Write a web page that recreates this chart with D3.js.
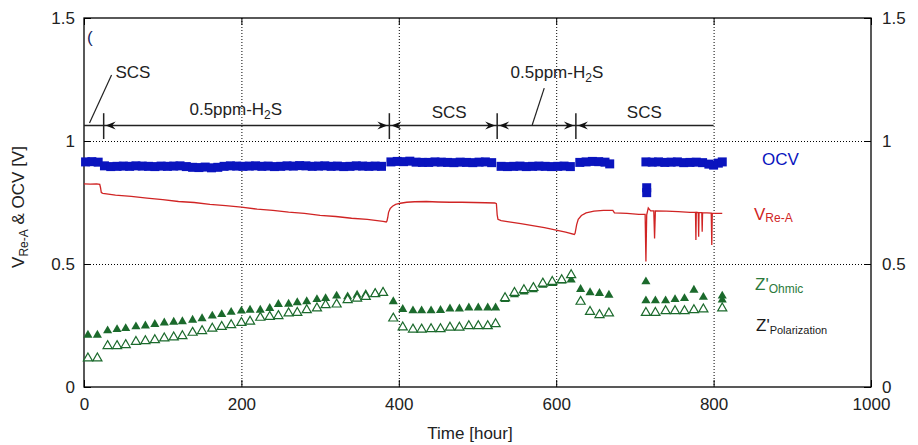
<!DOCTYPE html>
<html><head><meta charset="utf-8">
<script src="https://cdn.jsdelivr.net/npm/d3@7"></script>
<style>
body{margin:0;background:#fff}
svg{display:block}
text{font-family:"Liberation Sans",Arial,sans-serif}
</style>
</head><body>
<svg id="chart" width="918" height="445"></svg>
<script>
// ---------- data ----------
const xTicks = [0, 200, 400, 600, 800, 1000];
const yTicks = [0, 0.5, 1, 1.5];
const yTickLabels = ["0", "0.5", "1", "1.5"];
const gridX = [200, 400, 600, 800];
const gridY = [0.5, 1];

const ocvHours = [2,10,18, 26,34,42,50,58,66,74,82,90,98,106,114,122,130,138,146,154,162,170,178,186,194,202,210,218,226,234,242,250,258,266,274,282,290,298,306,314,322,330,338,346,354,362,370,378,
  390,398,406,414,422,430,438,446,454,462,470,478,486,494,502,510,518,
  530,538,546,554,562,570,578,586,594,602,610,618,
  630,638,646,654,662,668,
  715,715,
  714,722,730,738,746,754,762,770,778,786,794,800,806,811];
const ocvValues = [0.915,0.916,0.914, 0.899,0.896,0.897,0.898,0.897,0.899,0.898,0.897,0.896,0.898,0.897,0.898,0.899,0.896,0.893,0.892,0.894,0.891,0.893,0.897,0.899,0.898,0.897,0.898,0.899,0.897,0.898,0.896,0.897,0.899,0.898,0.900,0.899,0.897,0.898,0.899,0.897,0.898,0.896,0.897,0.899,0.898,0.897,0.898,0.897,
  0.915,0.917,0.916,0.918,0.914,0.913,0.913,0.915,0.914,0.913,0.912,0.914,0.913,0.912,0.914,0.915,0.912,
  0.897,0.896,0.897,0.898,0.896,0.897,0.898,0.897,0.896,0.897,0.898,0.896,
  0.913,0.915,0.917,0.916,0.914,0.907,
  0.810,0.790,
  0.915,0.914,0.915,0.913,0.914,0.915,0.912,0.913,0.914,0.912,0.906,0.902,0.910,0.915];

const vreHours = [0,8,16,20,21,22,24,40,60,80,100,120,140,160,180,200,220,240,260,280,300,320,340,360,380,384,
  385,386,387,389,392,396,402,410,420,435,450,465,480,495,510,522,524,525,526,530,540,555,570,585,600,612,623,
  624,626,628,632,638,648,660,672,674,690,705,713,714,715,717,720,724,725,726,740,755,770,777,777.5,778,780.5,781,781.5,785,785.5,786,797,797.7,798.3,805,811];
const vreValues = [0.826,0.825,0.826,0.824,0.810,0.790,0.787,0.780,0.775,0.768,0.762,0.754,0.750,0.742,0.737,0.731,0.723,0.718,0.711,0.706,0.698,0.693,0.686,0.681,0.673,0.671,
  0.675,0.690,0.710,0.725,0.735,0.742,0.747,0.751,0.753,0.754,0.752,0.751,0.751,0.750,0.749,0.748,0.745,0.700,0.682,0.676,0.671,0.664,0.656,0.648,0.638,0.630,0.620,
  0.625,0.660,0.682,0.697,0.708,0.715,0.718,0.718,0.708,0.706,0.702,0.702,0.510,0.700,0.728,0.716,0.716,0.604,0.716,0.715,0.713,0.710,0.710,0.598,0.710,0.709,0.611,0.709,0.709,0.631,0.709,0.707,0.577,0.707,0.706,0.706];

const zOhmHours = [5,17,30,42,53,66,78,90,102,114,125,138,150,163,175,187,200,211,224,236,247,260,271,283,296,307,321,335,347,358,370,380,
  393,405,418,429,441,453,465,477,489,501,513,523,535,547,559,571,583,595,607,619,631,643,655,667,
  714,714,726,739,751,763,775,787,811,811];
const zOhmValues = [0.211,0.211,0.229,0.234,0.238,0.245,0.249,0.255,0.261,0.264,0.266,0.272,0.278,0.289,0.295,0.304,0.309,0.313,0.313,0.320,0.336,0.337,0.343,0.347,0.356,0.360,0.370,0.367,0.374,0.377,0.381,0.385,
  0.347,0.316,0.310,0.310,0.310,0.312,0.318,0.318,0.322,0.322,0.322,0.322,0.356,0.376,0.387,0.396,0.414,0.421,0.431,0.436,0.397,0.384,0.381,0.374,
  0.428,0.351,0.351,0.351,0.356,0.360,0.394,0.365,0.370,0.354];

const zPolHours = [5,17,30,42,53,66,78,90,102,114,125,138,150,163,175,187,200,211,224,236,247,260,271,283,296,307,321,335,347,358,370,380,
  393,405,418,429,441,453,465,477,489,501,513,523,535,547,559,571,583,595,607,619,631,643,655,667,
  714,726,739,751,763,775,787,811];
const zPolValues = [0.117,0.117,0.167,0.167,0.171,0.184,0.187,0.191,0.198,0.202,0.207,0.221,0.228,0.238,0.245,0.252,0.261,0.266,0.282,0.286,0.289,0.300,0.302,0.313,0.320,0.333,0.336,0.354,0.360,0.367,0.378,0.383,
  0.279,0.243,0.234,0.234,0.236,0.236,0.242,0.242,0.248,0.248,0.248,0.256,0.362,0.383,0.394,0.403,0.421,0.428,0.435,0.455,0.347,0.306,0.293,0.300,
  0.302,0.302,0.309,0.309,0.309,0.313,0.316,0.320];

const phaseBounds = [25, 388, 525, 625];
const phaseEnd = 800;

// ---------- drawing ----------
const svg = d3.select("#chart");
svg.append("rect").attr("width",918).attr("height",445).attr("fill","#fff");

const x = d3.scaleLinear().domain([0,1000]).range([84,871]);
const y = d3.scaleLinear().domain([0,1.5]).range([387,18]);

const blue = "#0a14be", red = "#d02424", green = "#1b6a2c", ink = "#222";

// gridlines
const grid = svg.append("g").attr("stroke","#000").attr("stroke-width",1).attr("stroke-dasharray","1,2");
grid.selectAll("line.gx").data(gridX).join("line")
  .attr("x1",d=>x(d)+0.5).attr("x2",d=>x(d)+0.5).attr("y1",y(1.5)).attr("y2",y(0));
grid.selectAll("line.gy").data(gridY).join("line")
  .attr("x1",x(0)).attr("x2",x(1000)).attr("y1",d=>y(d)+0.5).attr("y2",d=>y(d)+0.5);

// axes
const fontSize = 17;
const axB = svg.append("g").attr("transform",`translate(0,${y(0)})`)
  .call(d3.axisBottom(x).tickValues(xTicks).tickSize(-7).tickPadding(11).tickFormat(d3.format("d")));
const axT = svg.append("g").attr("transform",`translate(0,${y(1.5)})`)
  .call(d3.axisTop(x).tickValues(xTicks).tickSize(-7).tickFormat(""));
const axL = svg.append("g").attr("transform",`translate(${x(0)},0)`)
  .call(d3.axisLeft(y).tickValues(yTicks).tickSize(-7).tickPadding(9).tickFormat((d,i)=>yTickLabels[i]));
const axR = svg.append("g").attr("transform",`translate(${x(1000)},0)`)
  .call(d3.axisRight(y).tickValues(yTicks).tickSize(-7).tickPadding(11).tickFormat((d,i)=>yTickLabels[i]));
[axB,axT,axL,axR].forEach(a=>{
  a.select(".domain").remove();
  a.selectAll("line").attr("stroke","#000").attr("stroke-width",1);
  a.selectAll("text").attr("font-size",fontSize).attr("fill",ink).attr("font-family",'"Liberation Sans",Arial,sans-serif');
});
// frame
svg.append("rect").attr("x",x(0)).attr("y",y(1.5)).attr("width",x(1000)-x(0)).attr("height",y(0)-y(1.5))
  .attr("fill","none").attr("stroke","#000").attr("stroke-width",1.3);

// axis titles
svg.append("text").attr("x",470).attr("y",439).attr("text-anchor","middle")
  .attr("font-size",17).attr("fill",ink).text("Time [hour]");
const yl = svg.append("text").attr("transform","translate(24,207) rotate(-90)").attr("text-anchor","middle")
  .attr("font-size",17).attr("fill",ink);
yl.append("tspan").text("V");
yl.append("tspan").attr("font-size",12).attr("dy",4).text("Re-A");
yl.append("tspan").attr("dy",-4).text(" & OCV [V]");

// OCV squares
const sq = 9;
svg.append("g").selectAll("rect").data(ocvHours.map((h,i)=>[h,ocvValues[i]])).join("rect")
  .attr("x",d=>x(d[0])-sq/2).attr("y",d=>y(d[1])-sq/2).attr("width",sq).attr("height",sq).attr("fill",blue);

// V_Re-A line
svg.append("path").datum(vreHours.map((h,i)=>[h,vreValues[i]]))
  .attr("d",d3.line().x(d=>x(d[0])).y(d=>y(d[1])))
  .attr("fill","none").attr("stroke",red).attr("stroke-width",1.3);

// Z' triangles
const tri = d3.symbol().type(d3.symbolTriangle).size(36);
svg.append("g").selectAll("path").data(zOhmHours.map((h,i)=>[h,zOhmValues[i]])).join("path")
  .attr("transform",d=>`translate(${x(d[0])},${y(d[1])})`).attr("d",tri).attr("fill",green);
svg.append("g").selectAll("path").data(zPolHours.map((h,i)=>[h,zPolValues[i]])).join("path")
  .attr("transform",d=>`translate(${x(d[0])},${y(d[1])})`).attr("d",tri)
  .attr("fill","#fff").attr("stroke",green).attr("stroke-width",1.2);

// phase annotation
const annY = 1.063;
const ann = svg.append("g").attr("stroke","#222").attr("fill","#111");
ann.append("line").attr("x1",x(0)).attr("x2",x(phaseEnd)).attr("y1",y(annY)).attr("y2",y(annY)).attr("stroke-width",1.5);
ann.selectAll("line.bar").data(phaseBounds).join("line").attr("class","bar")
  .attr("x1",d=>x(d)).attr("x2",d=>x(d)).attr("y1",y(1.113)).attr("y2",y(1.008)).attr("stroke-width",1.5);
function arrow(tipX, dir){ // dir=+1 points right, -1 points left
  const yy = y(annY);
  return `M${tipX},${yy} L${tipX-dir*10},${yy-4} L${tipX-dir*6.5},${yy} L${tipX-dir*10},${yy+4} Z`;
}
const arrowDefs = [];
phaseBounds.forEach((b,i)=>{
  if(i>0) arrowDefs.push([x(b)-2, 1]);
  arrowDefs.push([x(b)+2, -1]);
});
ann.selectAll("path").data(arrowDefs).join("path").attr("d",d=>arrow(d[0],d[1])).attr("stroke","none");

// leader lines
ann.append("line").attr("x1",x(7)).attr("y1",y(1.073)).attr("x2",x(35)).attr("y2",y(1.268)).attr("stroke-width",1.2);
ann.append("line").attr("x1",x(569.5)).attr("y1",y(1.065)).attr("x2",x(584.8)).attr("y2",y(1.215)).attr("stroke-width",1.2);

// phase labels
const lab = svg.append("g").attr("font-size",17).attr("fill",ink);
lab.append("text").attr("x",x(40)).attr("y",y(1.255)).text("SCS");
function h2s(px,py){
  const t = lab.append("text").attr("x",px).attr("y",py);
  t.append("tspan").text("0.5ppm-H");
  t.append("tspan").attr("font-size",12).attr("dy",4).text("2");
  t.append("tspan").attr("dy",-4).text("S");
}
h2s(x(134), y(1.106));
lab.append("text").attr("x",x(464)).attr("y",y(1.095)).attr("text-anchor","middle").text("SCS");
h2s(x(542), y(1.256));
lab.append("text").attr("x",x(712)).attr("y",y(1.095)).attr("text-anchor","middle").text("SCS");
lab.append("text").attr("x",87).attr("y",43).attr("fill","#1a2560").text("(");

// legend
const lg = svg.append("g").attr("font-size",17);
lg.append("text").attr("x",762).attr("y",165).attr("fill",blue).text("OCV");
const l2 = lg.append("text").attr("x",754).attr("y",220).attr("fill",red);
l2.append("tspan").text("V"); l2.append("tspan").attr("font-size",12).attr("dy",2).text("Re-A");
const l3 = lg.append("text").attr("x",755).attr("y",290).attr("fill","#2c7a3c");
l3.append("tspan").text("Z'"); l3.append("tspan").attr("font-size",12).attr("dy",3).text("Ohmic");
const l4 = lg.append("text").attr("x",756).attr("y",331).attr("fill","#1a1a1a");
l4.append("tspan").text("Z'"); l4.append("tspan").attr("font-size",11).attr("dy",3).text("Polarization");
</script>
</body></html>
